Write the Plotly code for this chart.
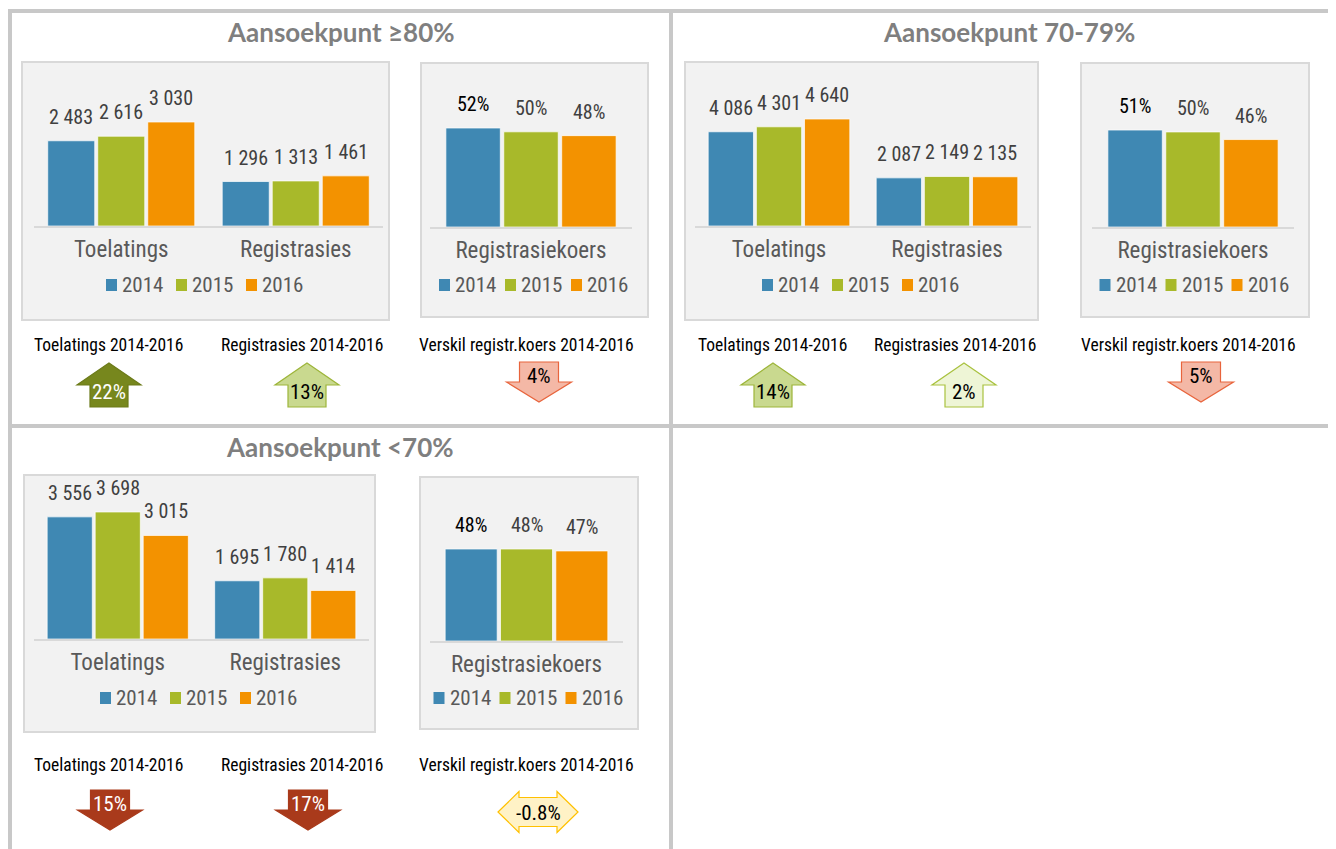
import plotly.graph_objects as go

# page coordinates (reference pixels); the html body adds an 8px margin
PAGE_W, PAGE_H = 1336, 849
OX, OY = 8, 8
W, H = PAGE_W - OX, PAGE_H - OY

# ---- data -------------------------------------------------------------
YEARS = ["2014", "2015", "2016"]
CATS = ["Toelatings", "Registrasies"]
RATE_CAT = ["Registrasiekoers"]
PANEL_TITLES = ["Aansoekpunt ≥80%", "Aansoekpunt 70-79%", "Aansoekpunt <70%"]
CHANGE_LABELS = ["Toelatings 2014-2016", "Registrasies 2014-2016", "Verskil registr.koers 2014-2016"]

toelatings_80 = [2483, 2616, 3030]
registrasies_80 = [1296, 1313, 1461]
koers_80 = [52, 50, 48]
change_80 = [22, 13, -4]

toelatings_70 = [4086, 4301, 4640]
registrasies_70 = [2087, 2149, 2135]
koers_70 = [51, 50, 46]
change_70 = [14, 2, -5]

toelatings_lt70 = [3556, 3698, 3015]
registrasies_lt70 = [1695, 1780, 1414]
koers_lt70 = [48, 48, 47]
change_lt70 = [-15, -17, -0.8]

# ---- styling ----------------------------------------------------------
YEAR_COLORS = ["#3f88b3", "#a8b92a", "#f39200"]
NARROW = "Liberation Sans Narrow, Arial Narrow, Roboto Condensed, Roboto, sans-serif"
TITLE_FONT = "Lato, Open Sans, sans-serif"
BORDER = "#c8c8c8"
BOX_FILL = "#f2f2f2"
BOX_LINE = "#d9d9d9"
BARGAP, BARGROUPGAP = 0.14, 0.06
PLOT_H = 146  # pixel height of each bar plot area

# pixel geometry of the three panels (layout only)
PANELS = [
    dict(title=(341, 32), boxA=(22, 62, 389, 320), axA=(34, 383), baseA=226, ymaxA=4254,
         boxB=(421, 63, 648, 317), axB=(430, 632), baseB=227, ymaxB=76.7, leg_y=285,
         lab_y=345, lab_x=(108, 302, 526), arr_x=(109, 307, 539), arr_top=362),
    dict(title=(1009, 32), boxA=(685, 62, 1038, 320), axA=(695, 1031), baseA=226, ymaxA=6331,
         boxB=(1081, 63, 1309, 317), axB=(1092, 1294), baseB=227, ymaxB=76.8, leg_y=285,
         lab_y=345, lab_x=(772, 955, 1188), arr_x=(773, 964, 1201), arr_top=362),
    dict(title=(340, 447), boxA=(24, 475, 375, 732), axA=(34, 369), baseA=639, ymaxA=4251,
         boxB=(420, 477, 638, 729), axB=(430, 623), baseB=641, ymaxB=76.2, leg_y=698,
         lab_y=765, lab_x=(108, 302, 526), arr_x=(110, 308, 538), arr_top=790),
]
PANEL_DATA = [
    (toelatings_80, registrasies_80, koers_80, change_80),
    (toelatings_70, registrasies_70, koers_70, change_70),
    (toelatings_lt70, registrasies_lt70, koers_lt70, change_lt70),
]


def fx(x):
    return (x - OX) / W


def fy(y):
    return 1 - (y - OY) / H


def path(points):
    return "M " + " L ".join(f"{fx(x):.5f},{fy(y):.5f}" for x, y in points) + " Z"


def up_arrow(cx, top, wh=64, ws=38, h=44, hh=22):
    return [(cx, top), (cx + wh / 2, top + hh), (cx + ws / 2, top + hh), (cx + ws / 2, top + h),
            (cx - ws / 2, top + h), (cx - ws / 2, top + hh), (cx - wh / 2, top + hh)]


def down_arrow(cx, top, wh=65, ws=39, h=40, hh=20):
    return [(cx - ws / 2, top), (cx + ws / 2, top), (cx + ws / 2, top + h - hh), (cx + wh / 2, top + h - hh),
            (cx, top + h), (cx - wh / 2, top + h - hh), (cx - ws / 2, top + h - hh)]


def double_arrow(cx, cy, w=80, h=41, hs=29, head=21):
    l, r = cx - w / 2, cx + w / 2
    return [(l, cy), (l + head, cy - h / 2), (l + head, cy - hs / 2), (r - head, cy - hs / 2), (r - head, cy - h / 2),
            (r, cy), (r - head, cy + h / 2), (r - head, cy + hs / 2), (l + head, cy + hs / 2), (l + head, cy + h / 2)]


def arrow_style(v):
    """fill, outline, text colour by size of the change"""
    if abs(v) < 1:
        return "#fff2c6", "#ffc000", "#000000"
    if v >= 20:
        return "#77871d", "#6c7b19", "#ffffff"
    if v >= 10:
        return "#c9d98f", "#9db53a", "#000000"
    if v > 0:
        return "#eef5d6", "#a9c23f", "#000000"
    if v > -10:
        return "#f4b8a6", "#e8643c", "#000000"
    return "#a93a1b", "#a93a1b", "#ffffff"


fig = go.Figure()
shapes, annotations, axes = [], [], {}

# outer frame and dividers
shapes.append(dict(type="rect", xref="paper", yref="paper", x0=fx(10), x1=fx(1330.5), y0=fy(860), y1=fy(11),
                   line=dict(color=BORDER, width=4), fillcolor="rgba(0,0,0,0)", layer="below"))
shapes.append(dict(type="line", xref="paper", yref="paper", x0=fx(671), x1=fx(671), y0=fy(860), y1=fy(11),
                   line=dict(color=BORDER, width=4), layer="below"))
shapes.append(dict(type="line", xref="paper", yref="paper", x0=fx(10), x1=fx(1330.5), y0=fy(426), y1=fy(426),
                   line=dict(color=BORDER, width=4), layer="below"))


def add_legend(cx, cy, pitch):
    total = 2 * pitch + 53
    x0 = cx - total / 2
    for i, yr in enumerate(YEARS):
        sx = x0 + i * pitch
        shapes.append(dict(type="rect", xref="paper", yref="paper", x0=fx(sx), x1=fx(sx + 11),
                           y0=fy(cy + 6), y1=fy(cy - 6), fillcolor=YEAR_COLORS[i], line=dict(width=0)))
        annotations.append(dict(xref="paper", yref="paper", x=fx(sx + 14), y=fy(cy), text=yr,
                                xanchor="left", yanchor="middle", showarrow=False,
                                font=dict(family=NARROW, size=21, color="#595959")))


def add_chart(n, cats, series, ax, base, ymax, box, leg_y, pitch, fmt, first_dark=False):
    xa, ya = f"x{n}", f"y{n}"
    key = "" if n == 1 else str(n)
    shapes.append(dict(type="rect", xref="paper", yref="paper", x0=fx(box[0]), x1=fx(box[2]),
                       y0=fy(box[3]), y1=fy(box[1]), fillcolor=BOX_FILL,
                       line=dict(color=BOX_LINE, width=2), layer="below"))
    for i, yr in enumerate(YEARS):
        fig.add_trace(go.Bar(x=cats, y=series[i], name=yr, xaxis=xa, yaxis=ya, showlegend=False,
                             marker=dict(color=YEAR_COLORS[i], line=dict(color="rgba(255,255,255,0.7)", width=1)),
                             hoverinfo="skip"))
    axes["xaxis" + key] = dict(domain=[fx(ax[0]), fx(ax[1])], anchor=ya, type="category",
                               showline=True, linecolor=BOX_LINE, linewidth=2, ticks="",
                               showgrid=False, zeroline=False, fixedrange=True, ticklabelstandoff=1,
                               tickfont=dict(family=NARROW, size=23, color="#595959"))
    axes["yaxis" + key] = dict(domain=[fy(base), fy(base - PLOT_H)], anchor=xa, range=[0, ymax],
                               visible=False, fixedrange=True)
    slot = (ax[1] - ax[0]) / len(cats) * (1 - BARGAP) / 3
    for i in range(3):
        for c, cat in enumerate(cats):
            v = series[i][c]
            col = "#000000" if (first_dark and i == 0) else "#404040"
            annotations.append(dict(xref=xa, yref=ya, x=cat, y=v, text=fmt(v), showarrow=False,
                                    xshift=(i - 1) * slot, yshift=10, yanchor="bottom",
                                    font=dict(family=NARROW, size=20, color=col)))
    add_legend((box[0] + box[2]) / 2 - 3, leg_y, pitch)


def fmt_count(v):
    return f"{v:,}".replace(",", " ")


def fmt_pct(v):
    return f"{v:g}%"


n = 1
for p, (toel, reg, koers, change), title in zip(PANELS, PANEL_DATA, PANEL_TITLES):
    annotations.append(dict(xref="paper", yref="paper", x=fx(p["title"][0]), y=fy(p["title"][1]),
                            text=title, showarrow=False, xanchor="center", yanchor="middle",
                            font=dict(family=TITLE_FONT, size=26, color="#7f7f7f", weight="bold")))
    counts = [[toel[i], reg[i]] for i in range(3)]
    add_chart(n, CATS, counts, p["axA"], p["baseA"], p["ymaxA"], p["boxA"], p["leg_y"], 70, fmt_count)
    n += 1
    rates = [[koers[i]] for i in range(3)]
    add_chart(n, RATE_CAT, rates, p["axB"], p["baseB"], p["ymaxB"], p["boxB"], p["leg_y"], 66, fmt_pct,
              first_dark=True)
    n += 1

    for lx, label in zip(p["lab_x"], CHANGE_LABELS):
        annotations.append(dict(xref="paper", yref="paper", x=fx(lx), y=fy(p["lab_y"]), text=label,
                                showarrow=False, xanchor="center", yanchor="middle",
                                font=dict(family=NARROW, size=17.5, color="#000000")))

    top = p["arr_top"]
    for cx, v in zip(p["arr_x"], change):
        fill, line, tcol = arrow_style(v)
        if abs(v) < 1:
            pts, ty, txt = double_arrow(cx, top + 22), top + 23, f"{v:g}%"
        elif v > 0:
            pts, ty, txt = up_arrow(cx, top + 1), top + 30, f"{v:g}%"
        else:
            pts, ty, txt = down_arrow(cx, top), top + 14, f"{abs(v):g}%"
        shapes.append(dict(type="path", xref="paper", yref="paper", path=path(pts), fillcolor=fill,
                           line=dict(color=line, width=1.2)))
        annotations.append(dict(xref="paper", yref="paper", x=fx(cx), y=fy(ty), text=txt, showarrow=False,
                                xanchor="center", yanchor="middle",
                                font=dict(family=NARROW, size=21, color=tcol)))

fig.update_layout(
    width=W, height=H, autosize=False,
    margin=dict(l=0, r=0, t=0, b=0),
    paper_bgcolor="white", plot_bgcolor="rgba(0,0,0,0)",
    barmode="group", bargap=BARGAP, bargroupgap=BARGROUPGAP,
    showlegend=False,
    shapes=shapes, annotations=annotations,
    **axes,
)

fig.write_html("out.html")
